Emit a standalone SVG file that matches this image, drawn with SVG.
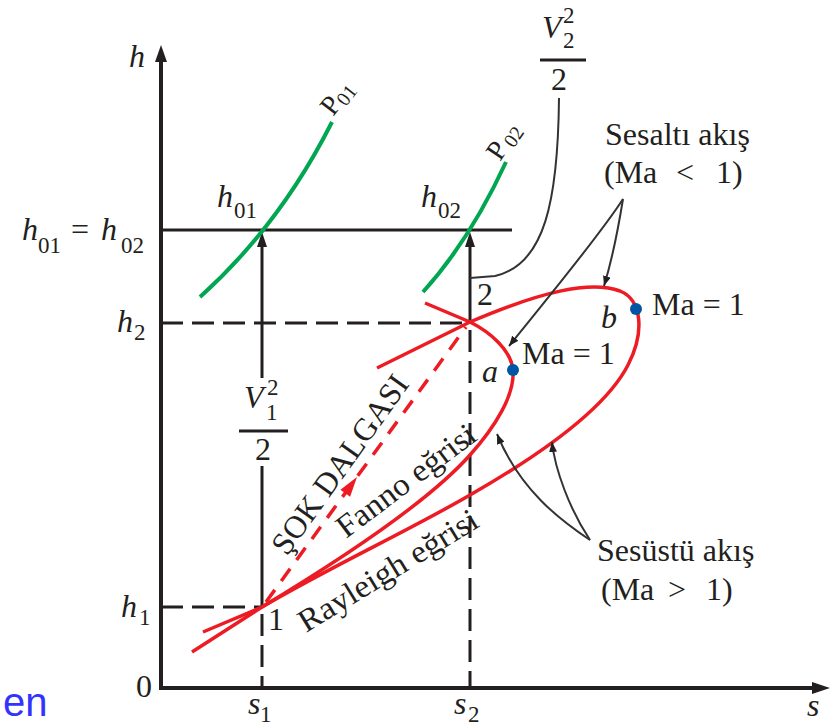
<svg xmlns="http://www.w3.org/2000/svg" width="836" height="726" viewBox="0 0 836 726">
<defs>
<style>
.t{font-family:"Liberation Serif","Times New Roman",serif;font-size:32px;fill:#231f20}
.i{font-style:italic}
.sub{font-size:23px}
.ax{stroke:#231f20;stroke-width:4;fill:none}
.ln{stroke:#231f20;stroke-width:3;fill:none}
.dash{stroke:#231f20;stroke-width:3;fill:none;stroke-dasharray:22 9}
.red{stroke:#ed1c24;stroke-width:3.5;fill:none}
.redd{stroke:#ed1c24;stroke-width:3.5;fill:none;stroke-dasharray:15 11}
.grn{stroke:#00a651;stroke-width:4;fill:none}
.ld{stroke:#333;stroke-width:2;fill:none}
</style>
<marker id="ah" viewBox="0 0 10 8" refX="10" refY="4" markerWidth="10" markerHeight="8" markerUnits="userSpaceOnUse" orient="auto">
<path d="M0,0 L10,4 L0,8 z" fill="#231f20"/>
</marker>
</defs>
<rect width="836" height="726" fill="#fff"/>

<g id="axes">
<line class="ax" x1="161" y1="58" x2="161" y2="690"/>
<line class="ax" x1="159" y1="688" x2="816" y2="688"/>
<path d="M161,45 L167,62 L155,62 z" fill="#231f20"/>
<path d="M830,688 L812,682 L812,694 z" fill="#231f20"/>
<text class="t i" x="129" y="67">h</text>
<text class="t i" x="807" y="716">s</text>
<text class="t" x="136" y="697">0</text>
</g>

<g id="guides">
<line class="ln" x1="161" y1="230" x2="512" y2="230"/>
<line class="dash" x1="161" y1="323" x2="470" y2="323"/>
<line class="dash" x1="161" y1="607" x2="262" y2="607"/>
<line class="ln" x1="262" y1="240" x2="262" y2="378"/>
<line class="ln" x1="262" y1="466" x2="262" y2="607"/>
<line class="dash" x1="262" y1="614" x2="262" y2="688"/>
<path d="M262,232 L267,247 L257,247 z" fill="#231f20"/>
<line class="ln" x1="470" y1="240" x2="470" y2="323"/>
<line class="dash" x1="470" y1="330" x2="470" y2="688"/>
<path d="M470,232 L475,247 L465,247 z" fill="#231f20"/>
</g>

<g id="axis-labels">
<text class="t i" x="22" y="240">h</text><text class="t sub" x="38" y="253">01</text>
<text class="t" x="71" y="240">=</text>
<text class="t i" x="101" y="240">h</text><text class="t sub" x="121" y="253">02</text>
<text class="t i" x="217" y="207">h</text><text class="t sub" x="234" y="218">01</text>
<text class="t i" x="421" y="207">h</text><text class="t sub" x="438" y="218">02</text>
<text class="t i" x="117" y="332">h</text><text class="t sub" x="134" y="340">2</text>
<text class="t i" x="121" y="617">h</text><text class="t sub" x="139" y="625">1</text>
<text class="t i" x="248" y="714">s</text><text class="t sub" x="260" y="722">1</text>
<text class="t i" x="454" y="714">s</text><text class="t sub" x="468" y="722">2</text>
</g>

<g id="v1-fraction">
<text class="t i" x="244" y="408">V</text>
<text class="t sub" x="267" y="395">2</text>
<text class="t sub" x="266" y="420">1</text>
<line class="ln" x1="239" y1="431" x2="288" y2="431"/>
<text class="t" x="255" y="460">2</text>
</g>

<g id="v2-fraction">
<text class="t i" x="542" y="38">V</text>
<text class="t sub" x="563" y="23">2</text>
<text class="t sub" x="563" y="48">2</text>
<line class="ln" x1="540" y1="60" x2="586" y2="60"/>
<text class="t" x="551" y="90">2</text>
</g>

<g id="p01">
<path class="grn" d="M200,297 Q280,225 332,122"/>
<text class="t" transform="translate(333,117) rotate(-52)" style="font-size:28px">P<tspan style="font-size:20px" dy="4">01</tspan></text>
</g>
<g id="p02">
<path class="grn" d="M423,292 Q470,240 506,162"/>
<text class="t" transform="translate(500,162) rotate(-56)" style="font-size:28px">P<tspan style="font-size:20px" dx="3" dy="4">02</tspan></text>
</g>

<g id="fanno">
<path class="red" d="M203,632 L262,607 C340,560 430,500 470,455 C495,427 515,395 513,370 C511,350 490,332 470,322 L425,303"/>
<text class="t" transform="translate(346,539) rotate(-37)" textLength="166" lengthAdjust="spacingAndGlyphs">Fanno eğrisi</text>
</g>

<g id="rayleigh">
<path class="red" d="M192,652 L262,607 C330,567 410,530 470,495 C540,455 605,410 628,365 C645,332 642,300 620,291 C590,280 540,292 470,322 L377,368"/>
<text class="t" transform="translate(306,633) rotate(-31.5)" textLength="205" lengthAdjust="spacingAndGlyphs">Rayleigh eğrisi</text>
</g>

<g id="shock">
<line class="redd" x1="266" y1="602" x2="466" y2="327"/>
<path d="M357,477 L350.1,496.7 L340.4,489.7 z" fill="#ed1c24"/>
<text class="t" transform="translate(287,557) rotate(-54.5)" textLength="212" lengthAdjust="spacingAndGlyphs">ŞOK DALGASI</text>
</g>

<g id="state1">
<text class="t" x="268" y="630">1</text>
</g>
<g id="state2">
<text class="t" x="477" y="305">2</text>
</g>

<g id="point-a">
<circle cx="513" cy="370" r="6" fill="#0055a5"/>
<text class="t i" x="482" y="382">a</text>
<text class="t" x="522" y="364">Ma = 1</text>
</g>
<g id="point-b">
<circle cx="636" cy="309" r="6" fill="#0055a5"/>
<text class="t i" x="601" y="328">b</text>
<text class="t" x="652" y="315">Ma = 1</text>
</g>

<g id="subsonic-label">
<text class="t" x="605" y="145">Sesaltı akış</text>
<text class="t" y="183"><tspan x="604">(Ma</tspan><tspan x="676">&lt;</tspan><tspan x="716">1)</tspan></text>
</g>
<g id="supersonic-label">
<text class="t" x="597" y="561">Sesüstü akış</text>
<text class="t" y="600"><tspan x="601">(Ma</tspan><tspan x="668">&gt;</tspan><tspan x="706">1)</tspan></text>
</g>

<g id="connectors">
<path class="ld" d="M559,98 C558,200 545,265 495,276 L470,278"/>
<path class="ld" d="M623,199 C618,230 612,260 604,286" marker-end="url(#ah)"/>
<path class="ld" d="M623,199 C600,235 550,295 509,346" marker-end="url(#ah)"/>
<path class="ld" d="M590,540 C560,520 520,490 497,434" marker-end="url(#ah)"/>
<path class="ld" d="M590,540 C570,510 555,470 552,442" marker-end="url(#ah)"/>
</g>

<text x="3" y="716" style="font-family:'Liberation Sans',Arial,sans-serif;font-size:40px;fill:#3333ff">en</text>
</svg>
